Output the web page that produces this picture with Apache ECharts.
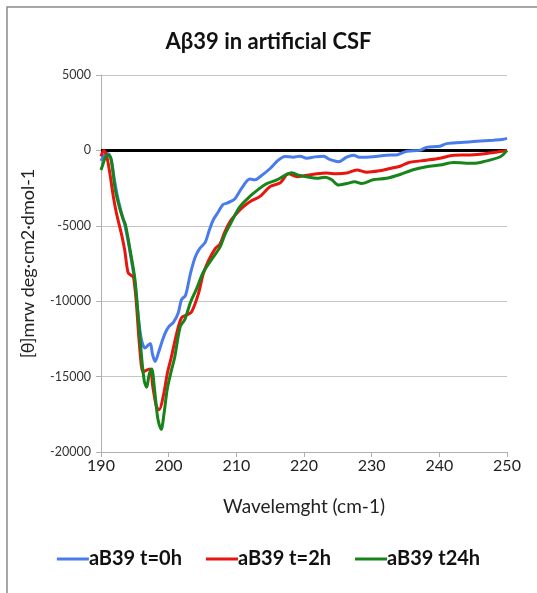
<!DOCTYPE html>
<html>
<head>
<meta charset="utf-8">
<script src="https://cdn.jsdelivr.net/npm/echarts@6/dist/echarts.min.js"></script>
<style>
  html, body { margin: 0; padding: 0; background: #fff; }
  #chart { width: 537px; height: 593px; }
</style>
</head>
<body>
<div id="chart"></div>
<script>
// wavelength (nm) / mean residue ellipticity pairs
const t0h = [
  [190, -700], [190.5, -300], [191, -200], [191.5, -600], [192, -2000], [192.5, -3200],
  [193, -4100], [193.5, -4900], [194, -6000], [194.5, -7300], [195, -8700], [195.5, -11000],
  [196, -12600], [196.5, -13100], [197, -12900], [197.3, -12800], [197.6, -13500], [198, -14000],
  [198.5, -13400], [199, -12700], [199.5, -12100], [200, -11700], [200.7, -11400], [201.4, -10800],
  [201.9, -9900], [202.5, -9600], [203.2, -8200], [203.9, -7100], [204.6, -6500], [205.4, -6100],
  [206, -5300], [206.6, -4600], [207.3, -4100], [208, -3600], [208.6, -3500], [209.1, -3400],
  [209.8, -3200], [210.8, -2500], [212, -1900], [212.8, -1950], [213.5, -1750], [215, -1200],
  [216.2, -650], [217.2, -400], [218.4, -450], [219.4, -380], [220.4, -520], [221.6, -430],
  [222.9, -380], [223.8, -600], [225.1, -750], [226.3, -450], [227.3, -320], [228.3, -460],
  [230.2, -420], [232.2, -320], [233.7, -300], [235.2, -50], [237.1, 0], [238.1, 200],
  [240.1, 280], [241.1, 450], [243.1, 520], [245.5, 600], [248, 680], [249.3, 730], [250, 800]
]
const t2h = [
  [190, -400], [190.4, 0], [190.8, -300], [191.3, -1500], [191.8, -3000], [192.3, -4200],
  [193, -5500], [193.5, -6600], [194, -8100], [194.5, -8300], [194.8, -8400], [195.2, -10000],
  [195.7, -13000], [196.2, -14700], [196.6, -14600], [197.2, -14500], [197.7, -15800], [198.2, -17000],
  [198.6, -17200], [199.2, -16300], [199.8, -14800], [200.4, -13700], [201.2, -12100], [201.9, -11100],
  [202.7, -10900], [203.4, -10700], [204.4, -9500], [205.1, -8200], [205.9, -7300], [206.9, -6500],
  [207.6, -6200], [208.3, -5400], [209.1, -4700], [210, -4200], [211, -3750], [212, -3400],
  [213.5, -3050], [215, -2400], [216.5, -2150], [217.7, -1550], [219, -1750], [220.4, -1650],
  [221.9, -1550], [223.3, -1500], [224.8, -1550], [226.3, -1500], [227.8, -1300], [229.3, -1450],
  [231.2, -1350], [232.7, -1200], [234.2, -1050], [235.5, -800], [238.1, -650], [240.1, -520],
  [242.1, -320], [244.5, -300], [247, -200], [249.5, -40], [250, 0]
]
const t24h = [
  [190, -1300], [190.3, -900], [190.7, -400], [191.1, -300], [191.5, -600], [192.1, -2600],
  [192.8, -3900], [193.3, -4600], [193.6, -4900], [194.3, -6600], [195, -8500], [195.5, -11000],
  [196, -13700], [196.4, -15300], [196.75, -15700], [197.1, -14900], [197.5, -14500], [197.9, -15800],
  [198.4, -17800], [198.9, -18500], [199.3, -17500], [199.8, -15800], [200.4, -14600], [200.9, -13700],
  [201.7, -11700], [202.4, -11200], [203.2, -10100], [204.1, -9200], [205.1, -8100], [206.4, -7200],
  [207.6, -6400], [208.3, -5600], [209.1, -4900], [210.5, -3750], [212, -3050], [213.5, -2500],
  [214.5, -2200], [216, -1950], [217.2, -1650], [218.2, -1480], [219.2, -1650], [220.4, -1750],
  [221.9, -1850], [223.1, -1780], [224.1, -1950], [225.1, -2300], [226.3, -2200], [227.5, -2080],
  [228.5, -2200], [230.2, -1950], [232.2, -1850], [234.2, -1600], [236, -1300], [238.1, -1080],
  [240.1, -970], [242.1, -800], [245, -860], [246.5, -750], [249, -420], [250, 0]
]
const zeroLine = [[190, 0], [250, 0]]
const names = ['aB39 t=0h', 'aB39 t=2h', 'aB39 t24h']
const colors = ['#4a7bec', '#e8150f', '#17841a']

const chart = echarts.init(document.getElementById('chart'))
const font = 'Lato, "Liberation Sans", sans-serif'

chart.setOption({
  animation: false,
  textStyle: { fontFamily: font },
  graphic: [{
    type: 'rect',
    shape: { x: 7, y: 7, width: 700, height: 700 },
    style: { fill: 'none', stroke: '#8a8a8a', lineWidth: 1.5 }
  }],
  title: {
    text: 'Aβ39 in artificial CSF',
    left: 'center',
    top: 26,
    textStyle: { fontFamily: font, fontSize: 22, fontWeight: 'bold', color: '#111' }
  },
  legend: {
    data: names,
    top: 544,
    left: 'center',
    icon: 'rect',
    itemWidth: 32,
    itemHeight: 3,
    itemGap: 24,
    textStyle: { fontFamily: font, fontSize: 20, fontWeight: 'bold', color: '#111', padding: [0, 0, 0, -5] }
  },
  grid: { left: 101, right: 30, top: 75, bottom: 141 },
  xAxis: {
    type: 'value',
    min: 190,
    max: 250,
    interval: 10,
    name: 'Wavelemght (cm-1)',
    nameLocation: 'middle',
    nameGap: 45,
    nameTextStyle: { fontFamily: font, fontSize: 19, color: '#222' },
    axisLine: { onZero: false, lineStyle: { color: '#b0b0b0' } },
    axisTick: { show: true, length: 5, lineStyle: { color: '#b0b0b0' } },
    axisLabel: { fontSize: 16, color: '#222', margin: 6 },
    splitLine: { show: false }
  },
  yAxis: {
    type: 'value',
    min: -20000,
    max: 5000,
    interval: 5000,
    name: '[θ]mrw deg·cm2·dmol-1',
    nameLocation: 'middle',
    nameGap: 64,
    nameTextStyle: { fontFamily: font, fontSize: 18, color: '#222' },
    axisLine: { show: true, lineStyle: { color: '#b0b0b0' } },
    axisTick: { show: true, length: 5, lineStyle: { color: '#b0b0b0' } },
    axisLabel: { fontSize: 12.5, color: '#333', margin: 10, formatter: v => String(v) },
    splitLine: { lineStyle: { color: '#c4c4c4' } }
  },
  series: [
    {
      name: 'zero',
      type: 'line',
      data: zeroLine,
      showSymbol: false,
      silent: true,
      lineStyle: { color: '#000', width: 3 },
      z: 1
    },
    {
      name: names[0], type: 'line', data: t0h, smooth: 0.3, showSymbol: false,
      itemStyle: { color: colors[0] }, lineStyle: { color: colors[0], width: 3 }, z: 2
    },
    {
      name: names[1], type: 'line', data: t2h, smooth: 0.3, showSymbol: false,
      itemStyle: { color: colors[1] }, lineStyle: { color: colors[1], width: 3 }, z: 3
    },
    {
      name: names[2], type: 'line', data: t24h, smooth: 0.3, showSymbol: false,
      itemStyle: { color: colors[2] }, lineStyle: { color: colors[2], width: 3 }, z: 4
    }
  ]
})
</script>
</body>
</html>
